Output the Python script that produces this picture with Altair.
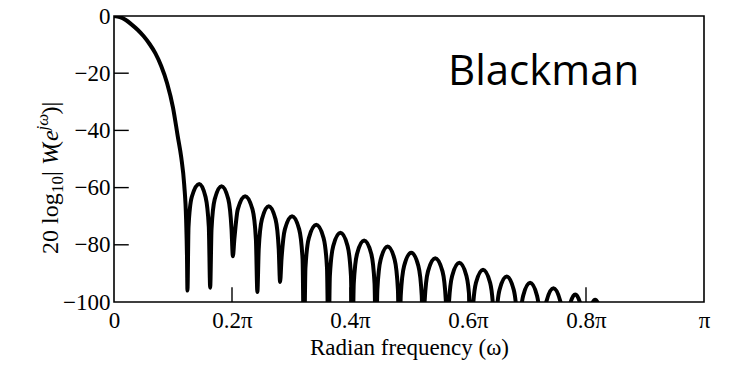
import altair as alt
import pandas as pd

# ---- data (omega in units of pi, magnitude in dB) ----
main_lobe_omega = [0.0, 0.01, 0.02, 0.03, 0.04, 0.05, 0.06, 0.07, 0.08, 0.09, 0.10, 0.108, 0.114, 0.119, 0.1222, 0.1237, 0.1245]
main_lobe_db = [0.0, -0.35, -1.4, -3.0, -4.8, -7.0, -9.7, -13.0, -17.5, -23.5, -32.0, -42.0, -49.5, -59.0, -71.0, -84.0, -96.0]

sidelobe_omega = [
    0.1263, 0.1318, 0.1445, 0.1552, 0.1607, 0.1630,
    0.1653, 0.1707, 0.1823, 0.1938, 0.1992, 0.2015,
    0.2040, 0.2098, 0.2223, 0.2347, 0.2405, 0.2430,
    0.2453, 0.2507, 0.2623, 0.2738, 0.2792, 0.2815,
    0.2839, 0.2896, 0.3018, 0.3139, 0.3196, 0.3220,
    0.3245, 0.3303, 0.3428, 0.3552, 0.3610, 0.3635,
    0.3659, 0.3716, 0.3838, 0.3959, 0.4016, 0.4040,
    0.4064, 0.4120, 0.4240, 0.4360, 0.4416, 0.4440,
    0.4464, 0.4519, 0.4638, 0.4757, 0.4812, 0.4836,
    0.4860, 0.4917, 0.5038, 0.5159, 0.5216, 0.5240,
    0.5265, 0.5322, 0.5445, 0.5568, 0.5625, 0.5650,
    0.5674, 0.5731, 0.5853, 0.5974, 0.6031, 0.6055,
    0.6079, 0.6135, 0.6255, 0.6375, 0.6431, 0.6455,
    0.6479, 0.6535, 0.6655, 0.6775, 0.6831, 0.6855,
    0.6879, 0.6934, 0.7053, 0.7171, 0.7226, 0.7250,
    0.7274, 0.7329, 0.7448, 0.7566, 0.7621, 0.7645,
    0.7666, 0.7714, 0.7818, 0.7921, 0.7969, 0.7990,
    0.8010, 0.8056, 0.8155, 0.8254, 0.8300, 0.8320,
]
sidelobe_db = [
    -73.7, -63.3, -58.7, -63.3, -73.7, -95.0,
    -74.5, -64.1, -59.5, -64.1, -74.5, -84.0,
    -78.0, -67.6, -63.0, -67.6, -78.0, -96.5,
    -81.5, -71.1, -66.5, -71.1, -81.5, -93.0,
    -85.0, -74.6, -70.0, -74.6, -85.0, -118.0,
    -88.0, -77.6, -73.0, -77.6, -88.0, -118.0,
    -90.8, -80.4, -75.8, -80.4, -90.8, -118.0,
    -93.5, -83.1, -78.5, -83.1, -93.5, -118.0,
    -95.6, -85.2, -80.6, -85.2, -95.6, -118.0,
    -97.8, -87.4, -82.8, -87.4, -97.8, -118.0,
    -99.7, -89.3, -84.7, -89.3, -99.7, -118.0,
    -101.3, -90.9, -86.3, -90.9, -101.3, -118.0,
    -103.7, -93.3, -88.7, -93.3, -103.7, -118.0,
    -106.1, -95.7, -91.1, -95.7, -106.1, -118.0,
    -108.3, -97.9, -93.3, -97.9, -108.3, -118.0,
    -110.2, -99.8, -95.2, -99.8, -110.2, -118.0,
    -112.4, -102.0, -97.4, -102.0, -112.4, -118.0,
    -114.2, -103.8, -99.2, -103.8, -114.2, -118.0,
]

x_tick_values = [0.0, 0.2, 0.4, 0.6, 0.8, 1.0]
y_tick_values = [0, -20, -40, -60, -80, -100]
inner_x_ticks = [0.2, 0.4, 0.6, 0.8]
inner_y_ticks = [-20, -40, -60, -80]

curve = pd.DataFrame({
    "omega": main_lobe_omega + sidelobe_omega,
    "db": main_lobe_db + sidelobe_db,
})

SERIF = "Liberation Serif"
W, H = 590, 286

xscale = alt.Scale(domain=[0, 1], nice=False, zero=False)
yscale = alt.Scale(domain=[-100, 0], nice=False, zero=False)

xaxis = alt.Axis(
    values=x_tick_values,
    labelExpr="datum.value == 0 ? '0' : (datum.value == 1 ? 'π' : format(datum.value, '.1f') + 'π')",
    title="Radian frequency (ω)",
    titleFont=SERIF, titleFontSize=23, titleFontWeight="normal", titlePadding=4,
    labelFont=SERIF, labelFontSize=23, labelPadding=7, labelColor="black", titleColor="black",
    domain=False, ticks=False, grid=False, labelFlush=False,
)
yaxis = alt.Axis(
    values=y_tick_values, title=None,
    labelFont=SERIF, labelFontSize=23, labelPadding=4, labelColor="black",
    domain=False, ticks=False, grid=False, labelFlush=False,
)

line = alt.Chart(curve).mark_line(
    color="black", strokeWidth=4, interpolate="monotone", clip=True
).encode(
    x=alt.X("omega:Q", scale=xscale, axis=xaxis),
    y=alt.Y("db:Q", scale=yscale, axis=yaxis),
    order="omega:Q",
)

ytick_df = pd.DataFrame({"v": inner_y_ticks})
yticks = alt.Chart(ytick_df).mark_rule(color="black", strokeWidth=1.4).encode(
    y=alt.Y("v:Q", scale=yscale),
    x=alt.datum(0.0, scale=xscale),
    x2=alt.datum(0.025),
)
xtick_df = pd.DataFrame({"v": inner_x_ticks})
xticks = alt.Chart(xtick_df).mark_rule(color="black", strokeWidth=1.4).encode(
    x=alt.X("v:Q", scale=xscale),
    y=alt.datum(-100, scale=yscale),
    y2=alt.datum(-94.8),
)

label = alt.Chart(pd.DataFrame({"t": ["Blackman"]})).mark_text(
    font="Open Sans", fontSize=42, align="left", baseline="alphabetic", color="black"
).encode(text="t:N", x=alt.value(448 - 114), y=alt.value(85 - 16))

# y-axis title built from pieces (rotated)
pieces = [
    ("20 log", "normal", 24, 58, 254),
    ("10", "normal", 17, 63, 193),
    (" |", "normal", 24, 58, 176),
    ("W", "italic", 24, 58, 165),
    ("(", "normal", 24, 58, 149),
    ("e", "italic", 24, 58, 141),
    ("jω", "italic", 17, 48, 130.5),
    (")|", "normal", 24, 58, 114.5),
]
title_layers = []
for txt, style, size, px, py in pieces:
    title_layers.append(
        alt.Chart(pd.DataFrame({"t": [txt]})).mark_text(
            font=SERIF, fontSize=size, fontStyle=style, angle=270,
            align="left", baseline="alphabetic", color="black",
        ).encode(text="t:N", x=alt.value(px - 114), y=alt.value(py - 16))
    )

chart = alt.layer(line, yticks, xticks, label, *title_layers).properties(
    width=W, height=H,
    padding={"left": 114, "top": 16, "right": 26, "bottom": 63},
    autosize=alt.AutoSizeParams(type="none"),
).configure_view(
    stroke="black", strokeWidth=1.6
)

chart.save("out.html", embed_options={"renderer": "svg", "actions": False})
